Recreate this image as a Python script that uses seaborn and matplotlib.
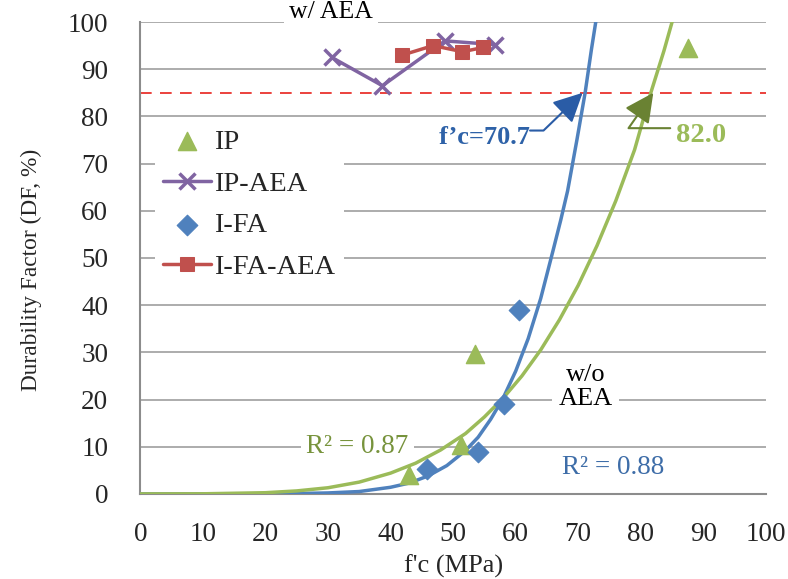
import numpy as np
import pandas as pd
import matplotlib
matplotlib.use("Agg")
import matplotlib.pyplot as plt
import seaborn as sns

# Measured points: compressive strength f'c (MPa) vs durability factor (%)
ip_x = [43.0, 51.3, 53.5, 87.5]
ip_y = [4.0, 10.3, 29.7, 94.5]

ip_aea_x = [30.6, 38.7, 48.7, 56.7]
ip_aea_y = [92.5, 86.5, 96.0, 95.2]

ifa_x = [45.8, 54.0, 58.2, 60.6]
ifa_y = [5.3, 8.9, 19.1, 39.0]

ifa_aea_x = [41.9, 46.8, 51.5, 54.8]
ifa_aea_y = [93.0, 95.0, 93.7, 94.6]

# Trend curves (w/o AEA)
ifa_fit_x = [0, 10, 20, 25, 30, 35, 40, 43, 46, 49, 52, 54, 56, 58, 60, 62, 64,
             66, 67.2, 68.3, 69.8, 71.1, 72.1, 72.8]
ifa_fit_y = [0, 0, 0.02, 0.08, 0.2, 0.5, 1.4, 2.3, 3.8, 6.0, 9.2, 12.0, 15.8,
             20.3, 26.0, 32.9, 41.4, 51.7, 58.0, 64.2, 75.1, 85.0, 94.1, 100.0]

ip_fit_x = [0, 10, 20, 25, 30, 35, 40, 44, 48, 52, 55, 58, 61, 64, 67, 70, 73,
            76, 79, 81.6, 83.7, 85.0]
ip_fit_y = [0, 0.02, 0.25, 0.63, 1.3, 2.5, 4.4, 6.5, 9.3, 12.8, 16.3, 20.3,
            25.0, 30.5, 36.9, 44.2, 52.6, 62.1, 72.9, 85.0, 93.9, 100.0]

df_limit = 85
fc_ifa, fc_ip = 70.7, 82.0
r2_ip, r2_ifa = 0.87, 0.88

x_ticks = list(range(0, 101, 10))
y_ticks = list(range(0, 101, 10))

GREEN = "#9BBB59"
PURPLE = "#8064A2"
BLUE = "#4F81BD"
RED = "#C0504D"
GRID = "#A6A6A6"

sns.set_theme(style="white")
plt.rcParams["font.family"] = ["Liberation Serif", "DejaVu Serif"]

fig = plt.figure(figsize=(7.88, 5.79), dpi=100)
ax = fig.add_axes([0.178, 0.147, 0.794, 0.815])

ax.set_xlim(0, 100)
ax.set_ylim(0, 100)
ax.set_xticks(x_ticks)
ax.set_yticks(y_ticks)
for y in y_ticks[1:]:
    ax.axhline(y, color=GRID, lw=1.3, zorder=0)

# fitted curves
sns.lineplot(x=ifa_fit_x, y=ifa_fit_y, ax=ax, color=BLUE, lw=2.5, sort=False,
             estimator=None, zorder=3, legend=False)
sns.lineplot(x=ip_fit_x, y=ip_fit_y, ax=ax, color=GREEN, lw=2.5, sort=False,
             estimator=None, zorder=3, legend=False)

ax.axhline(df_limit, color="#E8211B", lw=1.2, ls=(0, (7, 5)), zorder=2)

# data series
sns.scatterplot(x=ip_x, y=ip_y, ax=ax, marker="^", s=170, color=GREEN,
                edgecolor=GREEN, zorder=5, label="IP")
sns.lineplot(x=ip_aea_x, y=ip_aea_y, ax=ax, color=PURPLE, lw=2.5, sort=False,
             estimator=None, marker="x", markersize=12, markeredgewidth=2.5,
             markeredgecolor=PURPLE, zorder=5, label="IP-AEA")
sns.scatterplot(x=ifa_x, y=ifa_y, ax=ax, marker="D", s=110, color=BLUE,
                edgecolor=BLUE, zorder=5, label="I-FA")
sns.lineplot(x=ifa_aea_x, y=ifa_aea_y, ax=ax, color=RED, lw=2.5, sort=False,
             estimator=None, marker="s", markersize=10, markeredgecolor=RED,
             zorder=5, label="I-FA-AEA")

for s in ["top", "right"]:
    ax.spines[s].set_visible(False)
for s in ["left", "bottom"]:
    ax.spines[s].set_color("#8C8C8C")
    ax.spines[s].set_linewidth(1.5)
ax.tick_params(axis="both", which="major", direction="out", length=6, width=1.3,
               color="#8C8C8C", labelsize=19.5)
ax.tick_params(axis="y", pad=17)
ax.tick_params(axis="x", pad=14)

ax.set_xlabel("f'c (MPa)", fontsize=19, labelpad=6)
ax.set_ylabel("Durability Factor (DF, %)", fontsize=16.8)
ax.yaxis.set_label_coords(-0.157, 0.475)

leg = ax.legend(loc="upper left", bbox_to_anchor=(0.0, 0.822), fontsize=20.5,
                frameon=True, framealpha=1, facecolor="white", edgecolor="white",
                labelspacing=0.56, handlelength=1.7, handletextpad=0.1,
                borderpad=0.3)
leg.get_frame().set_linewidth(0)
leg.set_zorder(4)

white = dict(boxstyle="square,pad=0.2", fc="white", ec="none")

ax.text(30.5, 102.2, "w/ AEA", ha="center", va="center", fontsize=18.5,
        color="black", bbox=white, clip_on=False, zorder=2.5)
ax.text(71.2, 22.6, "w/o\nAEA", ha="center", va="center", fontsize=19,
        color="black", linespacing=1.1,
        bbox=dict(boxstyle="square,pad=0.25", fc="white", ec="none"), zorder=2.5)
ax.text(34.7, 10.0, f"R² = {r2_ip:.2f}", ha="center", va="center", fontsize=19.5,
        color="#77933C", bbox=white, zorder=2.5)
ax.text(75.6, 5.6, f"R² = {r2_ifa:.2f}", ha="center", va="center", fontsize=19.5,
        color="#3E6DA8", bbox=white, zorder=2.5)

arrow_kw = dict(arrowstyle="-|>,head_length=0.9,head_width=0.45", lw=1.5,
                mutation_scale=20, shrinkA=0, shrinkB=0)

# f'c at which each fit reaches DF = 85
ax.text(55.0, 75.6, f"f’c={fc_ifa}", ha="center", va="center", fontsize=19,
        fontweight="bold", color="#2E62A8", zorder=7)
ax.annotate("", xy=(fc_ifa, df_limit), xytext=(62.3, 77.0), zorder=7,
            arrowprops=dict(connectionstyle="angle,angleA=0,angleB=44,rad=0",
                            color="#2A5CA6", **arrow_kw))
ax.text(89.6, 76.0, f"{fc_ip}", ha="center", va="center", fontsize=20.5,
        fontweight="bold", color=GREEN, zorder=7)
ax.annotate("", xy=(fc_ip, df_limit), xytext=(84.7, 77.5), zorder=7,
            arrowprops=dict(connectionstyle="angle,angleA=180,angleB=55,rad=0",
                            color="#6A8233", **arrow_kw))

fig.savefig("out.png", dpi=100)
